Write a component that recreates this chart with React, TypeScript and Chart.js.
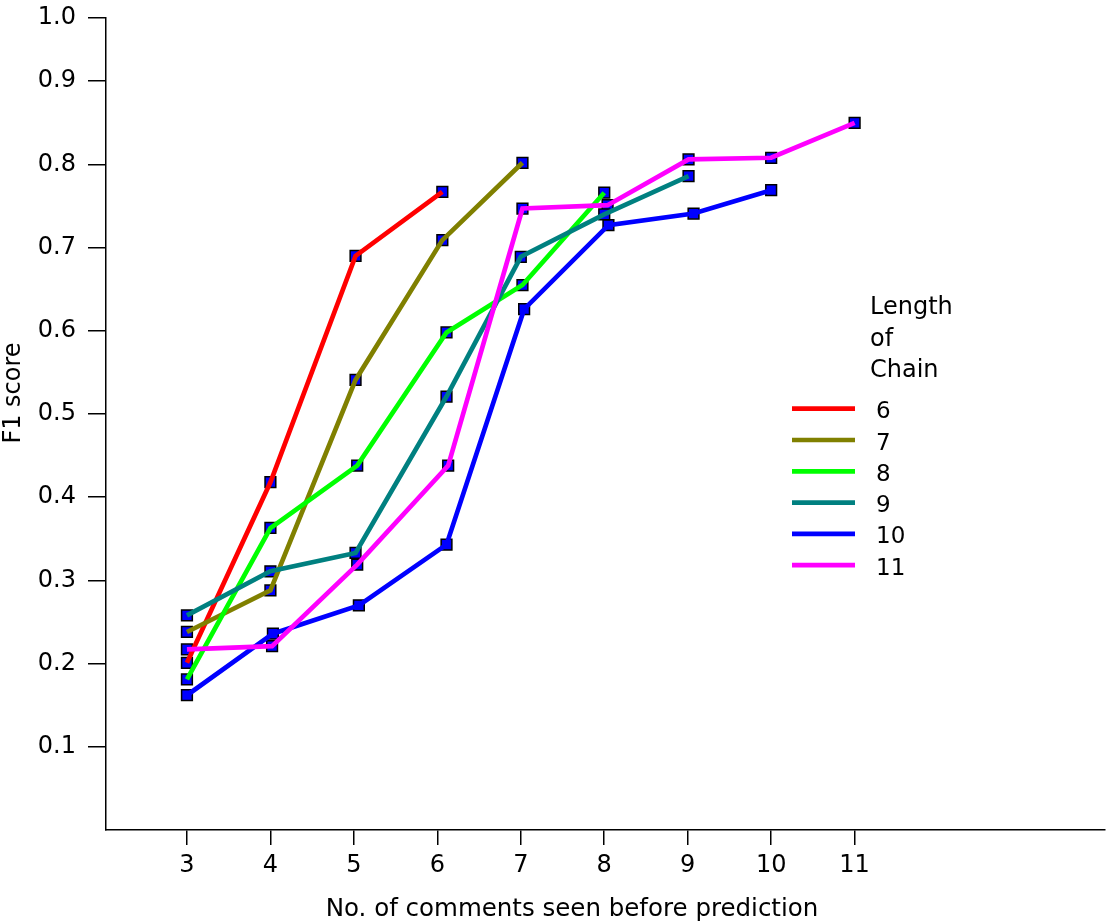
import React, { useEffect, useRef } from "react";
import { Chart, registerables } from "chart.js";

Chart.register(...registerables);

// ---- data ----
const seriesLabels = ["6", "7", "8", "9", "10", "11"];
const seriesColors = ["#ff0000", "#808000", "#00ff00", "#008080", "#0000ff", "#ff00ff"];

const xTicks = [3, 4, 5, 6, 7, 8, 9, 10, 11];
const yTicks = [0.1, 0.2, 0.3, 0.4, 0.5, 0.6, 0.7, 0.8, 0.9];
const yTopLabel = "1.0";

const chain6X = [3, 4, 5.02, 6.06];
const chain6Y = [0.201, 0.418, 0.69, 0.767];

const chain7X = [3, 4, 5.02, 6.06, 7.02];
const chain7Y = [0.238, 0.288, 0.541, 0.709, 0.802];

const chain8X = [3, 4, 5.04, 6.11, 7.02, 8.0];
const chain8Y = [0.181, 0.363, 0.438, 0.598, 0.655, 0.766];

const chain9X = [3, 4, 5.02, 6.11, 7.0, 8.0, 9.01];
const chain9Y = [0.258, 0.311, 0.333, 0.521, 0.689, 0.74, 0.786];

const chain10X = [3, 4.03, 5.06, 6.11, 7.04, 8.05, 9.07, 10.0];
const chain10Y = [0.162, 0.236, 0.27, 0.343, 0.626, 0.727, 0.741, 0.769];

const chain11X = [3, 4.02, 5.04, 6.13, 7.02, 8.04, 9.01, 10.0, 11.0];
const chain11Y = [0.217, 0.221, 0.319, 0.438, 0.747, 0.751, 0.806, 0.808, 0.85];

const seriesX = [chain6X, chain7X, chain8X, chain9X, chain10X, chain11X];
const seriesY = [chain6Y, chain7Y, chain8Y, chain9Y, chain10Y, chain11Y];

const xTitle = "No. of comments seen before prediction";
const yTitle = "F1 score";
const legendTitle = ["Length", "of", "Chain"];

const X_MIN = 2.03;
const X_MAX = 14;
const Y_MIN = 0;
const Y_MAX = 0.976;

const FONT = "'DejaVu Sans', sans-serif";

const overlayPlugin = {
  id: "overlay",
  afterDraw(chart: any) {
    const ctx = chart.ctx;
    ctx.save();
    ctx.fillStyle = "#000";
    ctx.font = `24.5px ${FONT}`;
    // x title
    ctx.textAlign = "center";
    ctx.textBaseline = "alphabetic";
    ctx.fillText(xTitle, 572, 916);
    // y title
    ctx.save();
    ctx.translate(20, 393);
    ctx.rotate(-Math.PI / 2);
    ctx.textAlign = "center";
    ctx.font = `24px ${FONT}`;
    ctx.fillText(yTitle, 0, 0);
    ctx.restore();
    // legend title
    ctx.font = `24px ${FONT}`;
    ctx.textAlign = "left";
    legendTitle.forEach((t, i) => {
      ctx.fillText(t, 870, 314 + i * 31.5);
    });
    // legend entries
    ctx.font = `23px ${FONT}`;
    seriesLabels.forEach((lab, i) => {
      const y = 408.7 + i * 31.3;
      ctx.strokeStyle = seriesColors[i];
      ctx.lineWidth = 4.7;
      ctx.beginPath();
      ctx.moveTo(792, y);
      ctx.lineTo(855, y);
      ctx.stroke();
      ctx.fillStyle = "#000";
      ctx.fillText(lab, 876, y + 9.5);
    });
    ctx.restore();
  },
};

export default function App() {
  const ref = useRef<HTMLCanvasElement | null>(null);
  useEffect(() => {
    if (!ref.current) return;
    const lineSets = seriesLabels.map((lab, i) => ({
      type: "line" as const,
      label: lab,
      data: seriesX[i].map((x, j) => ({ x, y: seriesY[i][j] })),
      borderColor: seriesColors[i],
      backgroundColor: seriesColors[i],
      borderWidth: 4.7,
      pointRadius: 0,
      fill: false,
      tension: 0,
      order: seriesLabels.length - i,
    }));
    const markerSets = seriesLabels.map((lab, i) => ({
      type: "line" as const,
      label: lab + " markers",
      data: seriesX[i].map((x, j) => ({ x, y: seriesY[i][j] })),
      showLine: false,
      pointStyle: "rect",
      pointRadius: 7.6,
      pointBackgroundColor: "#0000ff",
      pointBorderColor: "#000000",
      pointBorderWidth: 1.5,
      order: 100 + i,
    }));
    const zeroPad = (scale: any) => {
      scale.paddingTop = 0;
      scale.paddingBottom = 0;
      scale.paddingLeft = 0;
      scale.paddingRight = 0;
    };
    const chart = new Chart(ref.current, {
      type: "line",
      data: { datasets: [...lineSets, ...markerSets] as any },
      options: {
        animation: false,
        responsive: false,
        events: [],
        layout: { autoPadding: false, padding: { top: 18, right: 2, left: 0, bottom: 0 } },
        plugins: { legend: { display: false }, tooltip: { enabled: false } },
        scales: {
          x: {
            type: "linear",
            position: "bottom",
            min: X_MIN,
            max: X_MAX,
            afterBuildTicks: (scale: any) => {
              scale.ticks = xTicks.map((value) => ({ value }));
            },
            afterFit: (scale: any) => {
              scale.height = 91;
              zeroPad(scale);
            },
            ticks: {
              color: "#000",
              font: { family: FONT, size: 24 },
              padding: 6,
              maxRotation: 0,
              minRotation: 0,
              autoSkip: false,
              callback: (v: any) => String(v),
            },
            grid: {
              display: true,
              drawOnChartArea: false,
              drawTicks: true,
              tickLength: 15,
              color: "#000",
              lineWidth: 1.5,
            },
            border: { display: true, color: "#000", width: 1.5 },
          },
          y: {
            type: "linear",
            position: "left",
            min: Y_MIN,
            max: Y_MAX,
            afterBuildTicks: (scale: any) => {
              scale.ticks = [...yTicks, Y_MAX].map((value) => ({ value }));
            },
            afterFit: (scale: any) => {
              scale.width = 106;
              zeroPad(scale);
            },
            ticks: {
              color: "#000",
              font: { family: FONT, size: 24 },
              padding: 12,
              autoSkip: false,
              callback: (v: any) =>
                Math.abs(v - Y_MAX) < 1e-6 ? yTopLabel : Number(v).toFixed(1),
            },
            grid: {
              display: true,
              drawOnChartArea: false,
              drawTicks: true,
              tickLength: 18,
              color: "#000",
              lineWidth: 1.5,
            },
            border: { display: true, color: "#000", width: 1.5 },
          },
        },
      },
      plugins: [overlayPlugin],
    });
    return () => chart.destroy();
  }, []);
  return (
    <div style={{ position: "fixed", left: 0, top: 0, width: 1107, height: 921, background: "#fff" }}>
      <canvas ref={ref} width={1107} height={921} style={{ width: 1107, height: 921, display: "block" }} />
    </div>
  );
}
